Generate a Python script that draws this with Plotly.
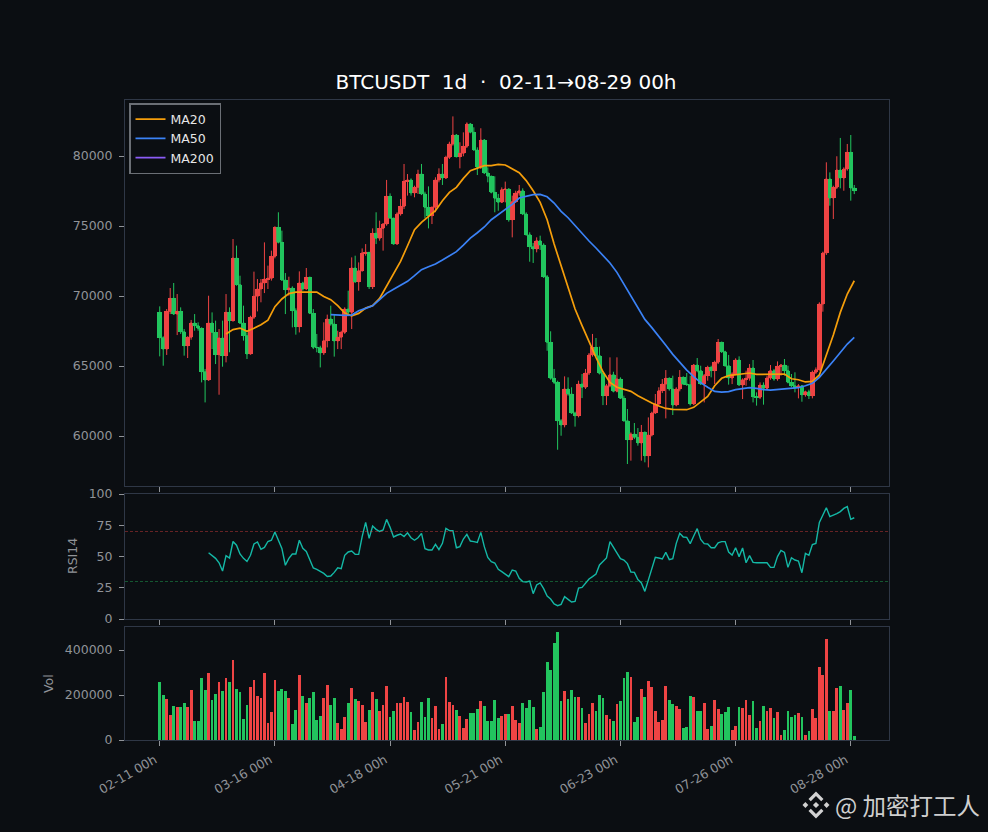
"""BTCUSDT daily chart: candles with MA lines, RSI14 and volume panels (dark theme)."""

import plotly.graph_objects as go
from plotly.subplots import make_subplots

W, H = 988, 832

tick_idx = [0, 33, 66, 99, 132, 165, 198]
tick_labels = ["02-11 00h", "03-16 00h", "04-18 00h", "05-21 00h", "06-23 00h", "07-26 00h", "08-28 00h"]

opens = [
    68830, 67020, 66210, 68900, 69830, 68710, 68900, 67450, 66450, 67050,
    68070, 67880, 67690, 64590, 64000, 68070, 67400, 65810, 67000, 65740,
    68830, 68240, 72710, 70810, 68070, 67170, 65860, 68480, 69980, 70500,
    70930, 71210, 71260, 72830, 74900, 73830, 71140, 70450, 70570, 68950,
    67810, 70930, 70500, 71330, 68760, 66330, 66310, 65930, 66810, 68360,
    68000, 66790, 67050, 67400, 69070, 68830, 72000, 71020, 71810, 73070,
    73120, 70670, 74480, 74120, 74830, 75140, 77120, 75570, 73710, 75860,
    76400, 78190, 78290, 77360, 77760, 78710, 77290, 76330, 75740, 76330,
    78290, 78710, 78430, 79900, 80860, 81500, 79950, 80190, 80690, 82290,
    81690, 80430, 79190, 81140, 78790, 78550, 77400, 76980, 76690, 77600,
    77640, 75450, 76740, 77360, 77520, 75860, 74380, 73520, 73360, 73950,
    73640, 71380, 66690, 64120, 63830, 61090, 60790, 63360, 63000, 61640,
    61450, 63710, 63480, 64500, 65790, 66330, 65740, 64480, 62880, 63590,
    64380, 63190, 64070, 62690, 61090, 59740, 60140, 59900, 59500, 60260,
    58590, 60070, 61640, 62290, 63240, 63710, 64120, 63360, 62210, 63360,
    64190, 63710, 63670, 62290, 65070, 64670, 63710, 64310, 64900, 64670,
    65260, 66690, 66020, 65020, 64140, 64430, 65430, 63640, 64020, 64120,
    64860, 62810, 62760, 63640, 63400, 64140, 64670, 64070, 64980, 65070,
    64670, 63830, 63590, 63480, 63590, 62950, 63170, 62880, 64550, 64740,
    69430, 73070, 78360, 77000, 77760, 79000, 78430, 79070, 80260, 77710,
]
closes = [
    67020, 66210, 68900, 69830, 68710, 68900, 67450, 66450, 67050, 68070,
    67880, 67690, 64590, 64000, 68070, 67400, 65810, 67000, 65740, 68830,
    68240, 72710, 70810, 68070, 67170, 65860, 68480, 69980, 70500, 70930,
    71210, 71260, 72830, 74900, 73830, 71140, 70450, 70570, 68950, 67810,
    70930, 70500, 71330, 68760, 66330, 66310, 65930, 66810, 68360, 68000,
    66790, 67050, 67400, 69070, 68830, 72000, 71020, 71810, 73070, 73120,
    70670, 74480, 74120, 74830, 75140, 77120, 75570, 73710, 75860, 76400,
    78190, 78290, 77360, 77760, 78710, 77290, 76330, 75740, 76330, 78290,
    78710, 78430, 79900, 80860, 81500, 79950, 80190, 80690, 82290, 81690,
    80430, 79190, 81140, 78790, 78550, 77400, 76980, 76690, 77600, 77640,
    75450, 76740, 77360, 77520, 75860, 74380, 73520, 73360, 73950, 73640,
    71380, 66690, 64120, 63830, 61090, 60790, 63360, 63000, 61640, 61450,
    63710, 63480, 64500, 65790, 66330, 65740, 64480, 62880, 63590, 64380,
    63190, 64070, 62690, 61090, 59740, 60140, 59900, 59500, 60260, 58590,
    60070, 61640, 62290, 63240, 63710, 64120, 63360, 62210, 63360, 64190,
    63710, 63670, 62290, 65070, 64670, 63710, 64310, 64900, 64670, 65260,
    66690, 66020, 65020, 64140, 64430, 65430, 63640, 64020, 64120, 64860,
    62810, 62760, 63640, 63400, 64140, 64670, 64070, 64980, 65070, 64670,
    63830, 63590, 63480, 63590, 62950, 63170, 62880, 64550, 64740, 69430,
    73070, 78360, 77000, 77760, 79000, 78430, 79070, 80260, 77710, 77520,
]
highs = [
    69260, 67120, 69070, 70570, 70930, 70140, 69190, 67640, 67120, 68290,
    68710, 68120, 67760, 64790, 70020, 68830, 68240, 67640, 68240, 70140,
    69190, 74070, 73600, 71450, 69310, 67400, 68590, 71740, 71210, 71210,
    73830, 72170, 73240, 74980, 75980, 74670, 71640, 71380, 70690, 69120,
    71760, 71020, 72000, 71380, 69070, 67290, 66450, 68120, 68670, 69310,
    68710, 67520, 67520, 69190, 70380, 72760, 72880, 72400, 73400, 73710,
    73120, 74830, 75980, 75380, 75210, 78290, 77330, 75140, 75980, 76930,
    79430, 78710, 78400, 77880, 79020, 79430, 77450, 77830, 76400, 78480,
    79120, 79430, 80020, 81020, 82830, 81570, 80980, 81690, 82400, 82360,
    82050, 80620, 81980, 81210, 79190, 78600, 78550, 77290, 77760, 78170,
    77690, 77170, 77520, 77930, 77690, 75980, 74550, 73790, 74190, 74310,
    73760, 71500, 67480, 64790, 63950, 61210, 64260, 64190, 63480, 61740,
    63950, 64430, 64790, 65930, 67290, 67000, 66380, 64550, 63710, 65620,
    64590, 65620, 64190, 62880, 61930, 60260, 60930, 60570, 60790, 60330,
    61330, 61740, 63000, 63480, 64070, 64710, 64190, 64310, 63480, 64710,
    64260, 64500, 64310, 65140, 65570, 65020, 64430, 65020, 65020, 65380,
    66930, 66740, 66090, 65790, 64550, 65550, 65690, 64120, 64670, 65140,
    65430, 63120, 63830, 63830, 64310, 65070, 64790, 65330, 65140, 65500,
    65020, 64430, 64550, 63710, 63640, 63240, 63310, 64670, 64900, 69550,
    73170, 79550, 78830, 77880, 79980, 81290, 79190, 80860, 81500, 77930,
]
lows = [
    65690, 65020, 65790, 68710, 68640, 67210, 67290, 65740, 65570, 66880,
    67520, 67520, 63830, 62400, 63950, 66210, 65140, 62950, 64950, 65260,
    65980, 68170, 70740, 68000, 66810, 65500, 65810, 68360, 68900, 69550,
    70210, 70500, 71100, 72690, 73760, 71070, 68710, 70020, 67760, 67240,
    67400, 70380, 70450, 68710, 66210, 65980, 64900, 65790, 66330, 67880,
    65670, 66210, 66210, 67290, 68710, 67640, 70930, 70380, 71740, 72880,
    70500, 70500, 73710, 73950, 73240, 75020, 75500, 73670, 73670, 75740,
    76210, 77170, 77170, 77050, 77290, 77210, 75550, 74830, 75140, 75980,
    78120, 77930, 78360, 79790, 80740, 79900, 79120, 79980, 80570, 81620,
    80380, 78640, 79070, 78710, 78120, 77330, 75980, 76090, 76640, 76690,
    75310, 74190, 76640, 77170, 75780, 74310, 72450, 72360, 73120, 73290,
    71290, 66090, 64020, 63710, 59020, 60020, 60620, 62880, 61570, 60670,
    61330, 62710, 63360, 64360, 65670, 65670, 64400, 62210, 62210, 63480,
    63120, 63120, 62640, 61020, 58000, 58240, 59780, 59310, 58240, 58120,
    57760, 59970, 61570, 62170, 63070, 61260, 63240, 61500, 62120, 63190,
    63640, 63590, 62170, 62210, 64550, 63640, 62400, 63950, 64190, 63710,
    65140, 65930, 64950, 63670, 63710, 64360, 63590, 62640, 63590, 63950,
    62400, 62170, 62640, 62240, 63280, 64020, 63950, 63950, 64310, 64310,
    63760, 63480, 63120, 62690, 62450, 62810, 62640, 62690, 64430, 64670,
    68880, 72930, 76450, 75500, 77640, 77690, 77520, 78950, 76810, 77280,
]
volumes = [
    257800, 200000, 182200, 111100, 151100, 146700, 146700, 164400, 146700, 222200,
    84400, 84400, 275600, 222200, 297800, 177800, 204400, 257800, 217800, 275600,
    257800, 355600, 226700, 213300, 93300, 155600, 235600, 266700, 195600, 186700,
    297800, 75600, 124400, 266700, 217800, 226700, 217800, 186700, 71100, 133300,
    288900, 195600, 164400, 186700, 213300, 88900, 106700, 186700, 244400, 155600,
    186700, 75600, 48900, 102200, 164400, 231100, 182200, 173300, 155600, 80000,
    133300, 213300, 182200, 128900, 155600, 240000, 102200, 128900, 164400, 164400,
    191100, 168900, 124400, 44400, 80000, 168900, 102200, 186700, 97800, 151100,
    48900, 71100, 280000, 168900, 155600, 133300, 106700, 53300, 93300, 120000,
    120000, 137800, 173300, 151100, 84400, 84400, 177800, 97800, 106700, 115600,
    115600, 151100, 88900, 75600, 164400, 142200, 177800, 146700, 48900, 57800,
    213300, 346700, 311100, 431100, 480000, 173300, 217800, 182200, 222200, 191100,
    191100, 142200, 75600, 115600, 164400, 128900, 200000, 186700, 111100, 93300,
    84400, 160000, 173300, 275600, 302200, 280000, 80000, 102200, 226700, 191100,
    262200, 235600, 128900, 80000, 88900, 240000, 177800, 160000, 151100, 137800,
    53300, 57800, 195600, 191100, 128900, 128900, 164400, 48900, 62200, 177800,
    137800, 115600, 124400, 146700, 44400, 62200, 146700, 142200, 177800, 111100,
    173300, 53300, 84400, 151100, 128900, 142200, 97800, 124400, 22200, 44400,
    128900, 102200, 111100, 120000, 102200, 22200, 40000, 137800, 97800, 324400,
    288900, 448900, 128900, 128900, 231100, 240000, 133300, 164400, 222200, 17800,
]

ma20_idx = list(range(19, 200, 2))
ma20 = [
    67280, 67600, 67710, 67480, 67690, 67950, 68280, 69240, 69790, 70170,
    70280, 70280, 70260, 70280, 69970, 69740, 69310, 68780, 68590, 68760,
    69140, 69310, 69830, 70690, 71570, 72470, 73590, 74740, 75260, 75660,
    76090, 76810, 77400, 77760, 78400, 78950, 79140, 79310, 79310, 79400,
    79360, 79090, 78810, 78240, 77520, 76690, 75450, 73710, 72120, 70500,
    69070, 67880, 66690, 65620, 64590, 63830, 63480, 63360, 63190, 62880,
    62590, 62360, 62140, 61970, 61900, 61880, 61880, 62050, 62470, 62830,
    63590, 64120, 64310, 64380, 64470, 64500, 64400, 64400, 64400, 64430,
    64430, 64090, 64020, 63860, 63900, 64360, 65740, 67210, 68830, 70140,
    71090,
]
ma50_idx = list(range(49, 200, 2))
ma50 = [
    68670, 68640, 68620, 68640, 68950, 69120, 69310, 69740, 70190, 70480,
    70760, 71050, 71450, 71880, 72090, 72290, 72570, 72900, 73170, 73640,
    74140, 74520, 74930, 75450, 75810, 76190, 76550, 77000, 77140, 77240,
    77260, 77090, 76640, 76050, 75590, 75020, 74430, 73930, 73430, 72930,
    72360, 71690, 70860, 69970, 69120, 68330, 67740, 67140, 66480, 65830,
    65260, 64710, 64240, 63810, 63480, 63190, 63140, 63170, 63310, 63380,
    63450, 63400, 63310, 63280, 63330, 63360, 63380, 63450, 63590, 63760,
    64190, 64740, 65360, 65970, 66570, 67050,
]

rsi_idx = list(range(14, 200))
rsi = [
    53, 51, 48.5, 45, 38.4, 50.7, 48.8, 62, 59, 52, 48.5, 46, 51, 60, 61.6, 55.7,
    57.3, 62, 63, 69.6, 62.7, 56.5, 43, 48.5, 52, 52, 63, 56.5, 54, 46.7, 40.8, 39.7,
    38.4, 36.5, 34, 34.4, 37.3, 41, 40.3, 51, 53.6, 54.4, 51.7, 51.7, 65.9, 77.3, 64.5, 74.4,
    71.7, 70, 71.2, 79.7, 73.3, 65.6, 67, 68, 66, 69, 65, 63, 65, 68.5, 56.3, 55.2,
    55.2, 59.7, 55.5, 60.5, 72.5, 70.7, 70.7, 57, 57.9, 64, 67.7, 62.4, 61.9, 61.3, 69.3, 57.9,
    49.3, 45.9, 44.8, 39.7, 37.9, 35.7, 33.9, 39.2, 38.4, 32.5, 29.9, 29.6, 30.4, 20.3, 27.2, 28.8,
    24.3, 18.4, 16, 12, 10.7, 11.7, 17.9, 15.7, 13.6, 14.1, 24.8, 25.3, 28.5, 32, 33.9, 36,
    43.2, 45.9, 48.8, 61.9, 57.3, 52.8, 48.3, 47.2, 44.3, 37.6, 37.3, 31.5, 28.8, 22.1, 31.2, 40.3,
    49.3, 48.8, 48, 53.3, 47.5, 48.3, 60.5, 68.5, 65.6, 65.3, 60.3, 66.4, 72.3, 63.7, 60.3, 60,
    57, 57, 61, 61.9, 61.9, 53.6, 51.2, 57, 49.9, 56.8, 45, 50.7, 45.3, 45, 44.8, 45,
    45, 41.3, 41.3, 49.9, 54.9, 53.3, 41.3, 49, 47.2, 46.4, 37, 52.5, 51, 59.5, 60.5, 77.3,
    83.2, 89, 81.9, 82.9, 84.3, 85.9, 88.5, 89.9, 79.7, 81,
]

BG = "#0b0e12"
SPINE = "#2f3746"
MUTED = "#909398"
RED = "#ef4444"
GREEN = "#22c55e"
FONT = "DejaVu Sans"


def dom_y(top, bottom):
    return [1 - bottom / H, 1 - top / H]


def px(x, y):
    return x / W, 1 - y / H


def poly(cx, cy, pts):
    parts = []
    for i, (dx, dy) in enumerate(pts):
        fx, fy = px(cx + dx, cy + dy)
        parts.append(f"{'M' if i == 0 else 'L'}{fx:.5f},{fy:.5f}")
    return " ".join(parts) + " Z"


fig = make_subplots(rows=3, cols=1, shared_xaxes=True)

x = list(range(len(closes)))
bar_colors = [RED if c >= o else GREEN for o, c in zip(opens, closes)]

# candlestick bodies come out thin at this density, so widen them with bars underneath
fig.add_trace(go.Bar(x=x, y=[abs(c - o) for o, c in zip(opens, closes)],
                     base=[min(o, c) for o, c in zip(opens, closes)], width=1.3, showlegend=False,
                     marker=dict(color=bar_colors, line=dict(width=0))), row=1, col=1)
fig.add_trace(go.Candlestick(
    x=x, open=opens, high=highs, low=lows, close=closes, showlegend=False,
    whiskerwidth=0,
    increasing=dict(line=dict(color=RED, width=1), fillcolor=RED),
    decreasing=dict(line=dict(color=GREEN, width=1), fillcolor=GREEN),
), row=1, col=1)
fig.add_trace(go.Scatter(x=ma20_idx, y=ma20, mode="lines", name="MA20",
                         line=dict(color="#f59e0b", width=1.7)), row=1, col=1)
fig.add_trace(go.Scatter(x=ma50_idx, y=ma50, mode="lines", name="MA50",
                         line=dict(color="#3b82f6", width=1.7)), row=1, col=1)
# only 200 bars, so MA200 has nothing to draw but still sits in the legend
fig.add_trace(go.Scatter(x=[None], y=[None], mode="lines", name="MA200",
                         line=dict(color="#8b5cf6", width=1.7)), row=1, col=1)

fig.add_trace(go.Scatter(x=rsi_idx, y=rsi, mode="lines", showlegend=False,
                         line=dict(color="#14b8a6", width=1.4)), row=2, col=1)
fig.add_hline(y=70, row=2, col=1, line=dict(color="rgba(239,68,68,0.5)", width=0.8, dash="3px,2px"))
fig.add_hline(y=30, row=2, col=1, line=dict(color="rgba(34,197,94,0.5)", width=0.8, dash="3px,2px"))

fig.add_trace(go.Bar(x=x, y=volumes, width=0.8, showlegend=False,
                     marker=dict(color=bar_colors, line=dict(width=0))), row=3, col=1)

for r in (1, 2, 3):
    fig.update_xaxes(
        row=r, col=1, range=[-9.95, 208.95], domain=[125 / W, 889 / W], automargin=False,
        showgrid=False, zeroline=False, showline=True, linecolor=SPINE, linewidth=1, mirror=True,
        ticks="outside", ticklen=5, tickwidth=1, tickcolor=MUTED,
        tickmode="array", tickvals=tick_idx, ticktext=tick_labels,
        showticklabels=r == 3, tickangle=-30, ticklabelshift=-5, ticklabelstandoff=2,
        tickfont=dict(family=FONT, size=12.5, color=MUTED),
        rangeslider=dict(visible=False),
    )
    fig.update_yaxes(
        row=r, col=1, automargin=False, showgrid=False, zeroline=False, showline=True, linecolor=SPINE,
        linewidth=1, mirror=True, ticks="outside", ticklen=5, tickwidth=1, tickcolor=MUTED,
        ticklabelstandoff=4, tickfont=dict(family=FONT, size=12.5, color=MUTED), tickformat="d",
    )
fig.update_yaxes(row=1, col=1, domain=dom_y(100, 486), range=[56430, 84000],
                 tickmode="array", tickvals=[60000, 65000, 70000, 75000, 80000])
fig.update_yaxes(row=2, col=1, domain=dom_y(494, 619), range=[0, 100],
                 tickmode="array", tickvals=[0, 25, 50, 75, 100])
fig.update_yaxes(row=3, col=1, domain=dom_y(627, 740), range=[0, 502200],
                 tickmode="array", tickvals=[0, 200000, 400000])

# axis titles and watermark text
fig.add_annotation(xref="paper", yref="paper", x=72 / W, y=1 - 556 / H, text="RSI14", textangle=-90,
                   xanchor="center", yanchor="middle", showarrow=False,
                   font=dict(family=FONT, size=12.5, color=MUTED))
fig.add_annotation(xref="paper", yref="paper", x=48 / W, y=1 - 684 / H, text="Vol", textangle=-90,
                   xanchor="center", yanchor="middle", showarrow=False,
                   font=dict(family=FONT, size=12.5, color=MUTED))
fig.add_annotation(xref="paper", yref="paper", x=833 / W, y=1 - 805 / H, xanchor="left", yanchor="middle",
                   text="@ 加密打工人", showarrow=False,
                   font=dict(family="Noto Sans CJK SC", size=23.5, color="#cfcfcf"))

# binance style mark next to the watermark
logo_cx, logo_cy = 816, 805
logo_parts = [
    [(0, -3.1), (3.1, 0), (0, 3.1), (-3.1, 0)],
    [(-10.6, -2.9), (-7.7, 0), (-10.6, 2.9), (-13.5, 0)],
    [(10.6, -2.9), (13.5, 0), (10.6, 2.9), (7.7, 0)],
    [(0, -13.5), (7.5, -6), (5.2, -3.7), (0, -8.9), (-5.2, -3.7), (-7.5, -6)],
    [(0, 13.5), (7.5, 6), (5.2, 3.7), (0, 8.9), (-5.2, 3.7), (-7.5, 6)],
]
for part in logo_parts:
    fig.add_shape(type="path", xref="paper", yref="paper", path=poly(logo_cx, logo_cy, part),
                  fillcolor="#d2d2d2", line=dict(width=0))

fig.update_layout(
    width=W, height=H, margin=dict(l=0, r=0, t=0, b=0), autosize=False,
    paper_bgcolor=BG, plot_bgcolor=BG,
    font=dict(family=FONT, color=MUTED),
    title=dict(text="BTCUSDT\u00a0\u00a01d\u00a0\u00a0·\u00a0\u00a002-11→08-29 00h", x=506 / W, y=1 - 82 / H,
               xanchor="center", yanchor="middle", font=dict(family=FONT, size=20, color="#ffffff"),
               automargin=False),
    legend=dict(x=129 / W, y=1 - 103 / H, xanchor="left", yanchor="top", bgcolor=BG,
                bordercolor="#6b6f75", borderwidth=1.5, font=dict(family=FONT, size=12.5, color="#e6e6e6"),
                itemwidth=30, tracegroupgap=0),
    bargap=0,
    hovermode=False,
)

fig.write_html("out.html", config=dict(displayModeBar=False),
               post_script=f"document.body.style.margin='0';document.body.style.background='{BG}';")
